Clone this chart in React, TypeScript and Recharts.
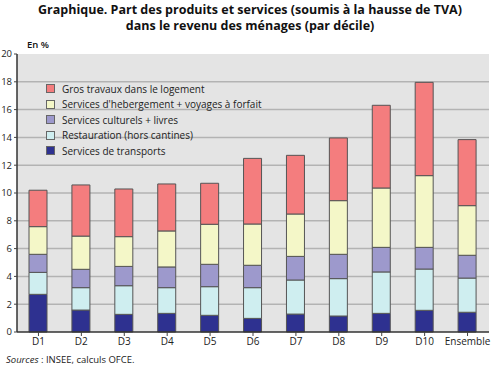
import React from "react";
import { Bar, BarChart, CartesianGrid, XAxis, YAxis } from "recharts";

const categories = ["D1", "D2", "D3", "D4", "D5", "D6", "D7", "D8", "D9", "D10", "Ensemble"];
const transports = [2.71, 1.58, 1.27, 1.34, 1.2, 0.98, 1.29, 1.15, 1.34, 1.56, 1.42];
const restauration = [1.58, 1.61, 2.06, 1.85, 2.06, 2.21, 2.45, 2.69, 2.98, 2.97, 2.46];
const culturels = [1.3, 1.32, 1.39, 1.49, 1.61, 1.61, 1.7, 1.75, 1.77, 1.56, 1.64];
const hebergement = [1.99, 2.39, 2.14, 2.59, 2.88, 2.97, 3.05, 3.86, 4.27, 5.16, 3.57];
const travaux = [2.62, 3.68, 3.43, 3.38, 2.95, 4.72, 4.22, 4.51, 5.95, 6.71, 4.75];
const yTicks = [0, 2, 4, 6, 8, 10, 12, 14, 16, 18, 20];
const gridValues = [2, 4, 6, 8, 10, 12, 14, 16, 18];

const series = [
  { key: "transports", name: "Services de transports", color: "#2e3190" },
  { key: "restauration", name: "Restauration (hors cantines)", color: "#cfeef0" },
  { key: "culturels", name: "Services culturels + livres", color: "#9d99cc" },
  { key: "hebergement", name: "Services d'hebergement + voyages à forfait", color: "#f4f7c8" },
  { key: "travaux", name: "Gros travaux dans le logement", color: "#f47d7e" },
];

const data = categories.map((name, i) => ({
  name,
  transports: transports[i],
  restauration: restauration[i],
  culturels: culturels[i],
  hebergement: hebergement[i],
  travaux: travaux[i],
}));

const FONT = "'Open Sans', sans-serif";

// legend drawn on top of the plot, top item first
function LegendBox() {
  const items = [...series].reverse();
  return (
    <div style={{ position: "absolute", left: 46, top: 81, fontFamily: FONT, fontSize: 10, color: "#222" }}>
      {items.map((s) => (
        <div key={s.key} style={{ display: "flex", alignItems: "center", height: 15.5 }}>
          <span
            style={{
              display: "inline-block",
              width: 7,
              height: 7,
              background: s.color,
              border: "1px solid #666",
              marginRight: 7,
            }}
          />
          {s.name}
        </div>
      ))}
    </div>
  );
}

export default function App() {
  return (
    <div style={{ position: "absolute", left: 0, top: 0, width: 500, height: 368, background: "#fff", fontFamily: FONT }}>
      <div
        style={{
          position: "absolute",
          top: 2,
          left: 0,
          width: 500,
          textAlign: "center",
          fontWeight: "bold",
          fontSize: 12.5,
          lineHeight: "16px",
          color: "#111",
        }}
      >
        Graphique. Part des produits et services (soumis à la hausse de TVA)
        <br />
        dans le revenu des ménages (par décile)
      </div>
      <div style={{ position: "absolute", top: 38, left: 27, fontSize: 9.5, fontWeight: 600, color: "#111" }}>En %</div>
      <BarChart
        width={500}
        height={368}
        data={data}
        barSize={18}
        margin={{ top: 54, right: 11, bottom: 16, left: 0 }}
      >
        <CartesianGrid
          vertical={false}
          fill="#e4e4e4"
          stroke="#b3b3b3"
          strokeWidth={1.5}
          horizontalValues={gridValues}
        />
        <XAxis
          dataKey="name"
          height={20}
          interval={0}
          tickLine={{ stroke: "#444" }}
          tickSize={4}
          axisLine={{ stroke: "#333", strokeWidth: 1.5 }}
          tick={{ fontSize: 10, fill: "#222", fontFamily: FONT }}
        />
        <YAxis
          width={17}
          domain={[0, 20]}
          ticks={yTicks}
          tickSize={3}
          tickLine={{ stroke: "#444" }}
          axisLine={{ stroke: "#333", strokeWidth: 1.5 }}
          tick={{ fontSize: 9.5, fill: "#222", fontFamily: FONT }}
        />
        {series.map((s) => (
          <Bar
            key={s.key}
            dataKey={s.key}
            name={s.name}
            stackId="a"
            fill={s.color}
            stroke="#555"
            strokeWidth={1}
            isAnimationActive={false}
          />
        ))}
      </BarChart>
      <LegendBox />
      <div style={{ position: "absolute", top: 353, left: 6, fontSize: 9.5, color: "#222" }}>
        <i>Sources</i> : INSEE, calculs OFCE.
      </div>
    </div>
  );
}
